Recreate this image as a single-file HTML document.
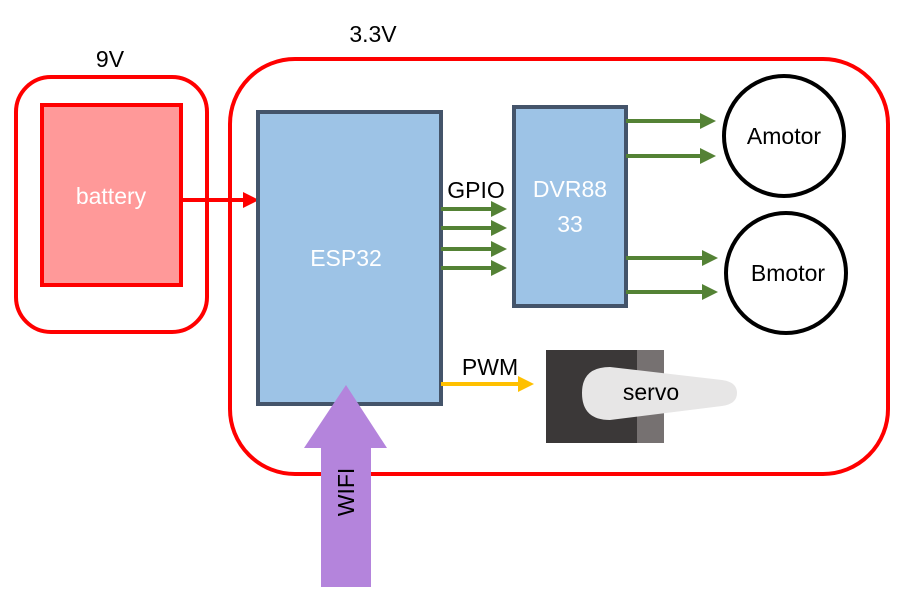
<!DOCTYPE html>
<html><head><style>body{margin:0;background:#fff}svg{display:block}text{font-family:"Liberation Sans",sans-serif}</style></head>
<body>
<svg width="908" height="605" viewBox="0 0 908 605" xmlns="http://www.w3.org/2000/svg">
<defs>
<marker id="g" markerWidth="4" markerHeight="4" refX="3" refY="2" orient="auto" markerUnits="strokeWidth"><path d="M0,0 L4,2 L0,4 z" fill="#548235"/></marker>
<marker id="r" markerWidth="4" markerHeight="4" refX="3" refY="2" orient="auto" markerUnits="strokeWidth"><path d="M0,0 L4,2 L0,4 z" fill="#f00"/></marker>
<marker id="y" markerWidth="4" markerHeight="4" refX="3" refY="2" orient="auto" markerUnits="strokeWidth"><path d="M0,0 L4,2 L0,4 z" fill="#FFC000"/></marker>
</defs>
<text x="110" y="67" font-size="23" text-anchor="middle">9V</text>
<text x="373" y="42" font-size="23" text-anchor="middle">3.3V</text>
<rect x="16" y="77" width="191" height="255" rx="35" fill="none" stroke="#f00" stroke-width="4"/>
<rect x="42" y="105" width="139" height="180" fill="#FF9999" stroke="#f00" stroke-width="4"/>
<text x="111" y="204" font-size="23" fill="#fff" text-anchor="middle">battery</text>
<rect x="230" y="59" width="658" height="415" rx="65" fill="none" stroke="#f00" stroke-width="4"/>
<line x1="181" y1="200" x2="255" y2="200" stroke="#f00" stroke-width="4" marker-end="url(#r)"/>
<rect x="258" y="112" width="183" height="292" fill="#9DC3E6" stroke="#44546A" stroke-width="4"/>
<text x="346" y="266" font-size="23" fill="#fff" text-anchor="middle">ESP32</text>
<rect x="514" y="107" width="112" height="199" fill="#9DC3E6" stroke="#44546A" stroke-width="4"/>
<text x="570" y="197" font-size="23" fill="#fff" text-anchor="middle">DVR88</text>
<text x="570" y="232" font-size="23" fill="#fff" text-anchor="middle">33</text>
<text x="476" y="198" font-size="23" text-anchor="middle">GPIO</text>
<g stroke="#548235" stroke-width="4" marker-end="url(#g)">
<line x1="441" y1="209" x2="503" y2="209"/>
<line x1="441" y1="228" x2="503" y2="228"/>
<line x1="441" y1="249" x2="503" y2="249"/>
<line x1="441" y1="268" x2="503" y2="268"/>
<line x1="626" y1="121" x2="712" y2="121"/>
<line x1="626" y1="156" x2="712" y2="156"/>
<line x1="626" y1="258" x2="714" y2="258"/>
<line x1="626" y1="292" x2="714" y2="292"/>
</g>
<circle cx="784" cy="136" r="60" fill="#fff" stroke="#000" stroke-width="4"/>
<circle cx="786" cy="273" r="60" fill="#fff" stroke="#000" stroke-width="4"/>
<text x="784" y="144" font-size="23" text-anchor="middle">Amotor</text>
<text x="788" y="281" font-size="23" text-anchor="middle">Bmotor</text>
<text x="490" y="375" font-size="23" text-anchor="middle">PWM</text>
<line x1="441" y1="384" x2="530" y2="384" stroke="#FFC000" stroke-width="4" marker-end="url(#y)"/>
<rect x="546" y="350" width="91" height="93" fill="#3B3838"/>
<rect x="637" y="350" width="27" height="93" fill="#767171"/>
<path d="M610,367 L722,380 Q737,382 737,393 Q737,404 722,406 L610,420 Q582,420 582,393 Q582,367 610,367 z" fill="#E7E6E6"/>
<text x="651" y="400" font-size="23" text-anchor="middle">servo</text>
<path d="M346,385 L387,448 L371,448 L371,587 L321,587 L321,448 L304,448 z" fill="#B484DC"/>
<text transform="translate(354,492) rotate(-90)" font-size="23" text-anchor="middle">WIFI</text>
</svg>
</body></html>
